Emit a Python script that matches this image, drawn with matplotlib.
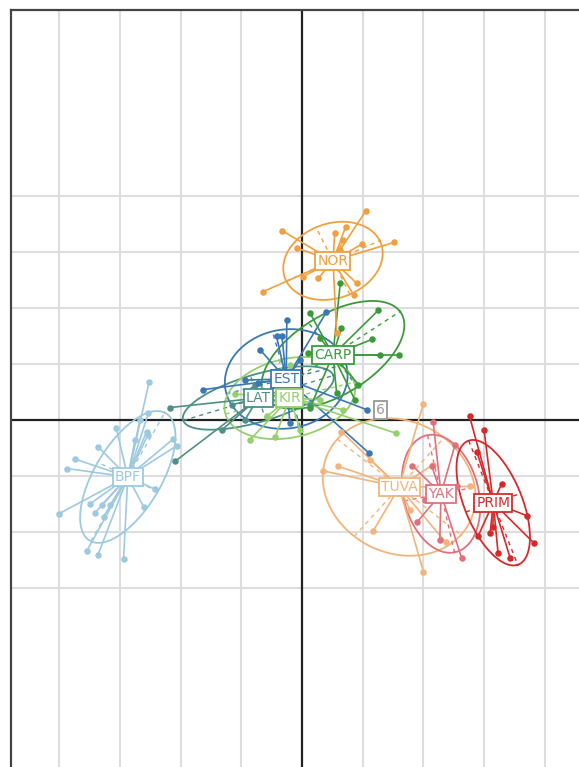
import numpy as np
import matplotlib
matplotlib.use("Agg")
import matplotlib.pyplot as plt

# group names, colours, centroids
groups = ["BPF", "LAT", "EST", "KIR", "CARP", "NOR", "TUVA", "YAK", "PRIM"]
colors = ["#9ecae1", "#4f8f86", "#3a78b5", "#95cf6e", "#3c9a3c",
          "#f0a040", "#f2b47a", "#e0707c", "#d52a2c"]
cx = [-2.87, -0.72, -0.26, -0.20, 0.51, 0.51, 1.60, 2.29, 3.15]
cy = [-1.02, 0.39, 0.73, 0.39, 1.16, 2.84, -1.20, -1.32, -1.48]

# ellipse semi-axes and angle (deg)
ell_a = [1.30, 1.30, 1.02, 1.10, 1.35, 0.85, 1.33, 1.07, 1.18]
ell_b = [0.56, 0.42, 0.88, 0.70, 0.70, 0.66, 1.15, 0.62, 0.48]
ell_ang = [62, 18, 15, 15, 35, 25, -40, -78, -70]

# individuals
bpf_x = [-2.52, -3.74, -3.87, -4.01, -3.55, -3.36, -2.94, -3.49, -3.41, -3.30, -3.16, -2.61,
         -2.42, -2.12, -2.06, -2.53, -2.56, -3.06, -3.36, -2.54, -3.27, -2.67, -2.75]
bpf_y = [0.67, -0.70, -0.87, -1.68, -2.35, -2.41, -2.49, -1.50, -1.66, -1.52, -1.52, -1.55,
         -1.24, -0.34, -0.46, 0.12, -0.21, -0.15, -0.48, -0.27, -1.73, 0.00, -0.36]
lat_x = [-2.09, -2.17, -1.15, -0.94, -0.53, -0.03, 0.13, -1.32, -0.77]
lat_y = [-0.74, 0.22, 0.27, 0.00, 0.45, 0.50, 0.27, -0.18, 0.63]
est_x = [-0.25, 0.40, -0.42, -0.33, -1.63, -0.72, 1.07, 1.10, -0.20, -0.94, -0.03, -0.69]
est_y = [1.79, 1.92, 1.49, 1.49, 0.54, 0.66, 0.18, -0.59, -0.05, 0.71, 1.07, 1.25]
kir_x = [-0.44, -0.58, -1.10, 1.55, -0.66, 0.30, 0.68, -0.20, -0.86, -0.03]
kir_y = [-0.30, 0.06, 0.46, -0.24, 0.54, 0.36, 0.18, 0.98, -0.36, -0.18]
carp_x = [0.63, 0.65, 1.26, 0.13, 1.16, 1.29, 1.59, 0.93, 0.57, 0.13, 0.10, 0.30, 0.87]
carp_y = [2.44, 1.64, 1.96, 1.91, 1.44, 1.16, 1.16, 0.63, 0.48, 0.21, 1.20, 1.46, 0.36]
nor_x = [-0.33, -0.09, 1.05, 0.72, 1.52, 0.99, 0.68, -0.64, 0.27, 0.85, 0.90, 0.57, 0.02, 0.63, 0.54]
nor_y = [3.38, 3.07, 3.73, 3.45, 3.17, 3.14, 3.21, 2.29, 2.53, 2.23, 2.44, 1.55, 2.56, 3.04, 3.34]
tuva_x = [2.00, 0.34, 0.60, 1.17, 2.00, 2.37, 2.16, 2.77, 0.65, 1.12, 1.78]
tuva_y = [0.29, -0.91, -0.83, -1.99, -2.71, -2.19, -0.80, -1.19, -0.21, -0.71, -1.61]
yak_x = [2.16, 2.52, 1.82, 1.90, 2.63, 2.14, 2.55, 2.27, 2.03]
yak_y = [-0.03, -0.45, -0.82, -1.82, -2.47, -0.83, -1.19, -2.14, -1.43]
prim_x = [2.76, 3.00, 3.29, 3.70, 3.82, 3.23, 3.43, 3.10, 2.90, 3.15, 2.88]
prim_y = [0.06, -0.19, -1.14, -1.71, -2.20, -2.38, -2.47, -2.02, -2.08, -1.91, -0.57]

pts_x = [bpf_x, lat_x, est_x, kir_x, carp_x, nor_x, tuva_x, yak_x, prim_x]
pts_y = [bpf_y, lat_y, est_y, kir_y, carp_y, nor_y, tuva_y, yak_y, prim_y]

# the lone "6" label
six_x, six_y = 1.29, 0.18

fig = plt.figure(figsize=(5.79, 7.67), dpi=100)
ax = fig.add_axes([11 / 579, -33 / 767, 629 / 579, 790 / 767])
ax.set_xlim(-4.794, 5.568)
ax.set_ylim(-6.79, 7.32)

# grid
for gx in [-4, -3, -2, -1, 1, 2, 3, 4, 5]:
    ax.axvline(gx, color="#dddddd", lw=1.5, zorder=0)
for gy in [-3, -2, -1, 1, 2, 3, 4]:
    ax.axhline(gy, color="#dddddd", lw=1.5, zorder=0)
ax.axvline(0, color="#222222", lw=1.6, zorder=1)
ax.axhline(0, color="#222222", lw=1.6, zorder=1)

t = np.linspace(0, 2 * np.pi, 200)
for i, g in enumerate(groups):
    c = colors[i]
    th = np.deg2rad(ell_ang[i])
    ex = ell_a[i] * np.cos(t)
    ey = ell_b[i] * np.sin(t)
    ax.plot(cx[i] + ex * np.cos(th) - ey * np.sin(th),
            cy[i] + ex * np.sin(th) + ey * np.cos(th), color=c, lw=1.3, zorder=2)
    # dashed ellipse axes
    for a, ang in [(ell_a[i], th), (ell_b[i], th + np.pi / 2)]:
        ax.plot([cx[i] - a * np.cos(ang), cx[i] + a * np.cos(ang)],
                [cy[i] - a * np.sin(ang), cy[i] + a * np.sin(ang)],
                color=c, lw=1.0, ls=(0, (3, 3)), zorder=2)
    for px, py in zip(pts_x[i], pts_y[i]):
        ax.plot([cx[i], px], [cy[i], py], color=c, lw=1.2, zorder=3)
    ax.scatter(pts_x[i], pts_y[i], s=22, color=c, zorder=4, linewidths=0)

for i, g in enumerate(groups):
    ax.text(cx[i], cy[i], g, color=colors[i], fontsize=10, ha="center", va="center", zorder=6,
            bbox=dict(boxstyle="square,pad=0.15", fc="white", ec=colors[i], lw=1.3))
ax.text(six_x, six_y, "6", color="#999999", fontsize=10, ha="center", va="center", zorder=6,
        bbox=dict(boxstyle="square,pad=0.15", fc="white", ec="#999999", lw=1.3))

ax.set_xticks([])
ax.set_yticks([])
for s in ["right", "bottom"]:
    ax.spines[s].set_visible(False)
for s in ["top", "left"]:
    ax.spines[s].set_color("#444444")
    ax.spines[s].set_linewidth(1.6)

fig.savefig("out.png", dpi=100)
